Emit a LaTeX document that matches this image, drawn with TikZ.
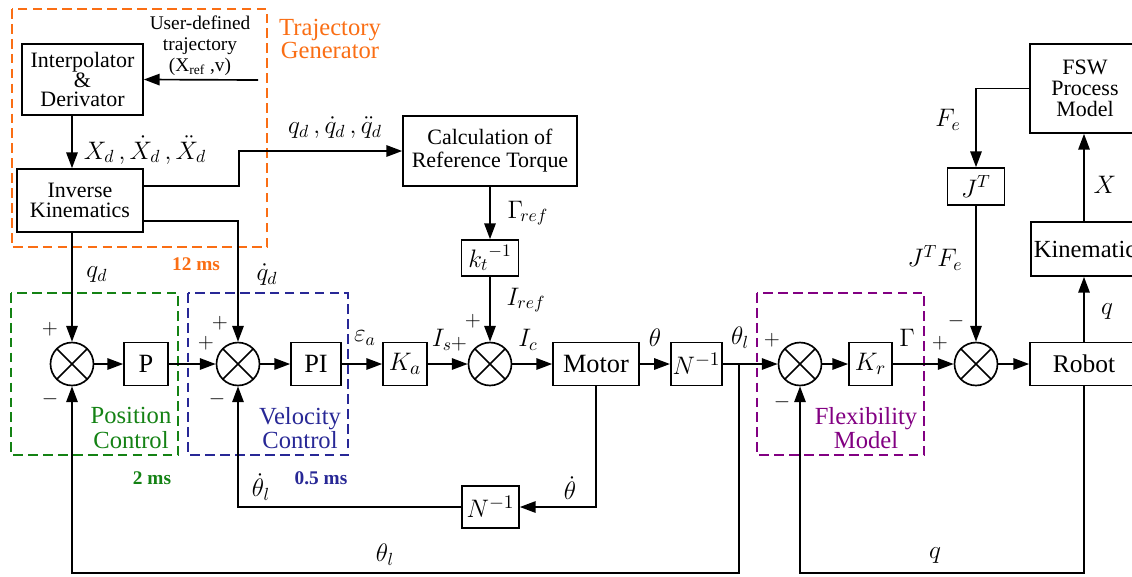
\documentclass[tikz,border=0pt]{standalone}
\usepackage{fontspec}
\setmainfont{LiberationSerif}[Extension=.ttf, UprightFont=*-Regular, BoldFont=*-Bold, ItalicFont=*-Italic, BoldItalicFont=*-BoldItalic]
\usetikzlibrary{arrows.meta,calc}
\definecolor{trajorange}{RGB}{250,110,20}
\definecolor{posgreen}{RGB}{20,130,20}
\definecolor{velblue}{RGB}{40,40,150}
\definecolor{flexpurple}{RGB}{130,0,130}

\begin{document}
\begin{tikzpicture}[x=0.02cm, y=-0.02cm, >={Triangle[length=9pt,width=6.5pt]}, line width=0.95pt,
		blk/.style={draw, inner sep=1pt, minimum height=0.86cm, align=center, font=\fontsize{12.5}{12}\selectfont},
		big/.style={blk, font=\fontsize{15}{17}\selectfont},
		sumj/.style={circle, draw, inner sep=0pt, minimum size=0.86cm, path picture={
			\draw (path picture bounding box.north west) -- (path picture bounding box.south east)
				(path picture bounding box.south west) -- (path picture bounding box.north east);}},
		lbl/.style={font=\fontsize{14}{16}\selectfont, inner sep=1pt},
		sgn/.style={font=\fontsize{12}{12}\selectfont, inner sep=0pt},
		grp/.style={dash pattern=on 5.5pt off 3pt},
		grplbl/.style={font=\fontsize{14}{14}\selectfont, align=center},
		ms/.style={font=\fontsize{11}{13}\selectfont\bfseries}]
		\useasboundingbox (0,0) rectangle (1132,576);
		% trajectory generator
		\draw[grp, trajorange] (12,9) rectangle (267,247);
		\node[font=\fontsize{14}{13}\selectfont, text=trajorange, align=center] (tgtxt) at (330,39) {Trajectory\\Generator};
		\node[ms, text=trajorange] (tgms) at (196,264) {12 ms};
		\node[blk, minimum width=2.42cm, minimum height=1.42cm, font=\fontsize{12.5}{11}\selectfont] (interp) at (82.5,79.5) {Interpolator\\\&\\Derivator};
		\node[font=\fontsize{11}{12}\selectfont, align=center] (usrtxt) at (200,46) {User-defined\\trajectory\\(X\textsubscript{ref} ,v)};
		\coordinate (usrin) at (258,80);
		\node[blk, minimum width=2.52cm, minimum height=1.26cm, font=\fontsize{12.5}{11.5}\selectfont] (ik) at (80,200.5) {Inverse\\Kinematics};
		\node[blk, minimum width=3.48cm, minimum height=1.4cm, font=\fontsize{12.5}{13}\selectfont] (calc) at (490,151) {Calculation of\\Reference Torque};
		\node[blk, minimum width=1.14cm, minimum height=0.72cm, font=\fontsize{14}{14}\selectfont] (kt) at (490,258) {${k_t}^{-1}$};
		% main row
		\node[sumj] (s1) at (72,364) {};
		\node[big, minimum width=0.88cm] (pbox) at (146,364) {P};
		\node[sumj] (s2) at (238,364) {};
		\node[big, minimum width=1cm] (pibox) at (316,364) {PI};
		\node[big, minimum width=0.88cm] (ka) at (405,364) {$K_a$};
		\node[sumj] (s3) at (490,364) {};
		\node[big, minimum width=1.72cm] (motor) at (596,364) {Motor};
		\node[big, minimum width=1.02cm] (ninv) at (696.5,364) {$N^{-1}$};
		\node[sumj] (s4) at (800,364) {};
		\node[big, minimum width=0.86cm] (kr) at (870.5,364) {$K_r$};
		\node[sumj] (s5) at (976,364) {};
		\node[big, minimum width=2.16cm, font=\fontsize{14.5}{17}\selectfont] (robot) at (1084,364) {Robot};
		\node[big, minimum width=1.14cm, minimum height=0.84cm] (ninv2) at (490.5,507) {$N^{-1}$};
		% right column
		\node[blk, anchor=west, inner xsep=1.7pt, minimum height=1.08cm, font=\fontsize{14}{14}\selectfont] (kin) at (1030,249) {Kinematics};
		\node[blk, minimum width=2.2cm, minimum height=1.78cm] (fsw) at (1085,88.5) {FSW\\Process\\Model};
		\node[blk, minimum width=1.14cm, minimum height=0.74cm, font=\fontsize{14}{14}\selectfont] (jt) at (976,186.5) {$J^T$};
		% control groups
		\draw[grp, posgreen] (11,293) rectangle (178,455);
		\draw[grp, velblue] (188,293) rectangle (348,455);
		\draw[grp, flexpurple] (757,293) rectangle (924,455);
		\node[grplbl, text=posgreen] (poslbl) at (131,428) {Position\\Control};
		\node[grplbl, text=velblue] (vellbl) at (300,428) {Velocity\\Control};
		\node[grplbl, text=flexpurple] (flexlbl) at (866,428) {Flexibility\\Model};
		\node[ms, text=posgreen] (posms) at (152,478) {2 ms};
		\node[ms, text=velblue] (velms) at (321,478) {0.5 ms};
		% connectors
		\draw[->] (usrin) -- (interp.east);
		\draw[->] (interp.south -| s1) -- (ik.north -| s1);
		\draw[->] ([yshift=8.2pt]ik.east) -- ++(95,0) |- (calc.west);
		\draw[->] ([yshift=-11.6pt]ik.east) -| (s2.north);
		\draw[->] (ik.south -| s1) -- (s1.north);
		\foreach \a/\b in {s1/pbox, pbox/s2, s2/pibox, pibox/ka, ka/s3, s3/motor, motor/ninv, ninv/s4, s4/kr, kr/s5, s5/robot}
			\draw[->] (\a.east) -- (\b.west);
		\draw[->] (calc.south) -- (kt.north);
		\draw[->] (kt.south) -- (s3.north);
		\draw[->] (motor.south) |- (ninv2.east);
		\draw[->] (ninv2.west) -| (s2.south);
		\coordinate (thl) at (739,364);
		\coordinate (thlb) at (739,573);
		\draw[->] (thl) -- (thlb) -| (s1.south);
		\draw[->] (robot.south) -- (robot.south |- thlb) -| (s4.south);
		\draw[->] (robot.north) -- (robot.north |- kin.south);
		\draw[->] (kin.north -| robot) -- (fsw.south -| robot);
		\draw[->] (fsw.west) -| (jt.north);
		\draw[->] (jt.south) -- (s5.north);
		% signal labels
		\node[lbl] (lxd) at (145,150) {$X_d\,,\dot X_d\,,\ddot X_d$};
		\node[lbl] (lqd3) at (335,128) {$q_d\,,\dot q_d\,,\ddot q_d$};
		\node[lbl] (lqd) at (97,275) {$q_d$};
		\node[lbl] (ldqd) at (267,275) {$\dot q_d$};
		\node[lbl] (lgref) at (528,213) {$\Gamma_{\!ref}$};
		\node[lbl] (liref) at (526,300) {$I_{ref}$};
		\node[lbl] (lea) at (365,338) {$\varepsilon_a$};
		\node[lbl] (lis) at (442,340) {$I_s$};
		\node[lbl] (lic) at (528,340) {$I_c$};
		\node[lbl] (lth) at (655,338) {$\theta$};
		\node[lbl] (lthl) at (740,338) {$\theta_l$};
		\node[lbl] (lgam) at (907,338) {$\Gamma$};
		\node[lbl] (ldthl) at (261,487) {$\dot\theta_l$};
		\node[lbl] (ldth) at (570,488) {$\dot\theta$};
		\node[lbl] (lthlb) at (385,555) {$\theta_l$};
		\node[lbl] (lqb) at (935,555) {$q$};
		\node[lbl] (lfe) at (948,120) {$F_e$};
		\node[lbl] (ljfe) at (935,258) {$J^T F_e$};
		\node[lbl] (lx) at (1105,185) {$X$};
		\node[lbl] (lq) at (1107,312) {$q$};
		% signs
		\node[sgn] (p1) at (50,329) {$+$};
		\node[sgn] (m1) at (50,399) {$-$};
		\node[sgn] (p2a) at (220,323) {$+$};
		\node[sgn] (p2b) at (206,343) {$+$};
		\node[sgn] (m2) at (217,399) {$-$};
		\node[sgn] (p3a) at (459,344) {$+$};
		\node[sgn] (p3b) at (473,321) {$+$};
		\node[sgn] (p4) at (772,340) {$+$};
		\node[sgn] (m4) at (782,402) {$-$};
		\node[sgn] (p5) at (940,343) {$+$};
		\node[sgn] (m5) at (956,321) {$-$};
	\end{tikzpicture}
\end{document}
